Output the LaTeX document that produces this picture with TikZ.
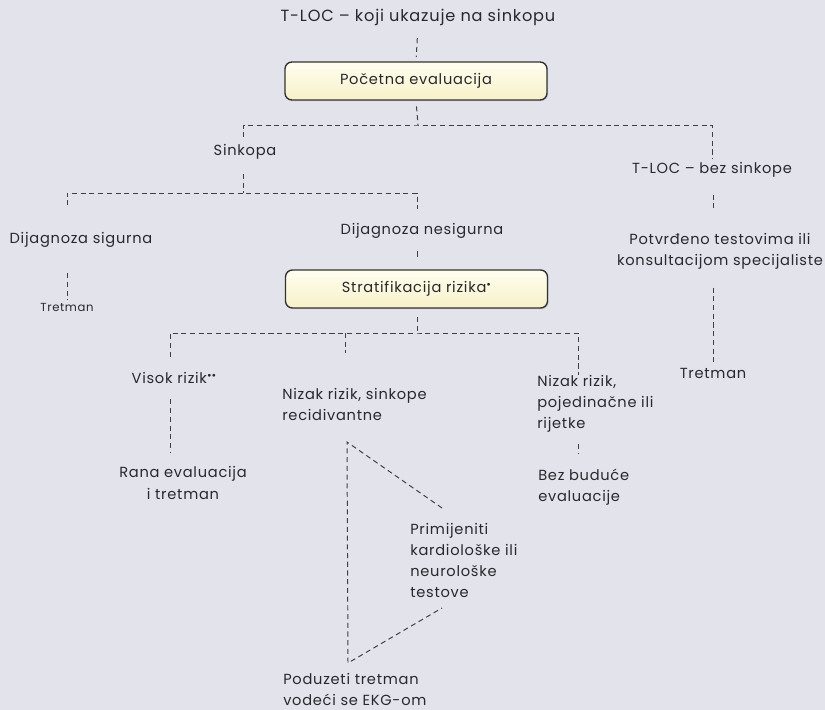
\documentclass[tikz,border=0pt]{standalone}
\usepackage{fontspec}
\setmainfont{Poppins}[LetterSpace=5]
\usetikzlibrary{shadows}
\definecolor{bgcol}{RGB}{227,227,236}
\definecolor{txtcol}{RGB}{40,40,45}
\definecolor{boxtop}{RGB}{255,254,240}
\definecolor{boxbot}{RGB}{247,241,200}
\newcommand{\bul}{\raisebox{0.55ex}{\fontsize{8}{8}\selectfont •}}
\begin{document}
\begin{tikzpicture}[x=0.025cm,y=-0.025cm,
  txt/.style={inner sep=0pt, text=txtcol, font=\fontsize{10.4}{15}\selectfont},
  ml/.style={txt, align=left, anchor=north west},
  box/.style={txt, draw=black!80, line width=1pt, rounded corners=5pt,
    top color=boxtop, bottom color=boxbot, minimum width=6.55cm, minimum height=0.95cm,
    drop shadow={opacity=0.25, shadow xshift=0.8pt, shadow yshift=-0.8pt}},
  dl/.style={draw=black!75, line width=0.7pt, dash pattern=on 3.6pt off 2.6pt}]
\fill[bgcol] (0,0) rectangle (825,710);

% top
\node[txt, font=\fontsize{11.5}{13}\selectfont] (title) at (418,17) {T-LOC -- koji ukazuje na sinkopu};
\node[box] (poc) at (416,81) {Početna evaluacija};
\coordinate (j1) at (418,125);
\draw[dl, shorten <=9pt, shorten >=3pt] (title.south) -- (poc.north);
\draw[dl, shorten <=4pt] (poc.south) -- (j1);

% first split
\node[txt] (sink) at (245,152) {Sinkopa};
\node[txt] (bez) at (712,170) {T-LOC -- bez sinkope};
\draw[dl, shorten <=5pt, shorten >=2pt] (sink.north -| 243,0) |- (j1) -| (bez.north);

% sinkopa split
\coordinate (j2) at (243,193);
\draw[dl, shorten <=10pt] (sink.south -| j2) -- (j2);
\node[txt] (dsig) at (81,240) {Dijagnoza sigurna};
\node[txt] (dnes) at (422,231) {Dijagnoza nesigurna};
\draw[dl, shorten <=19pt, shorten >=10pt] (dsig.north -| 67,0) |- (j2) -| (dnes.north -| 417,0);

% left branch
\node[txt, font=\fontsize{8.3}{9}\selectfont] (trl) at (67,307) {Tretman};
\draw[dl, shorten <=18pt, shorten >=2pt] (dsig.south -| trl) -- (trl.north);

% right branch
\node[txt, align=center] (potv) at (720,251) {Potvrđeno testovima ili\\konsultacijom specijaliste};
\node[txt] (tr2) at (713,373) {Tretman};
\draw[dl, shorten <=12pt, shorten >=16pt] (bez.south -| 713,0) -- (potv.north -| 713,0);
\draw[dl, shorten <=13pt, shorten >=3pt] (potv.south -| tr2) -- (tr2.north);

% stratifikacija
\node[box] (strat) at (416.5,289) {Stratifikacija rizika\bul};
\draw[dl, shorten <=9pt, shorten >=8pt] (dnes.south -| 417,0) -- (strat.north -| 417,0);
\coordinate (j3) at (417,333);
\draw[dl, shorten <=6pt] (strat.south -| j3) -- (j3);

% risk groups
\node[txt] (visok) at (174,378) {Visok rizik\bul\bul};
\node[ml] (niz1) at (282,388) {Nizak rizik, sinkope\\recidivantne};
\node[ml] (niz2) at (537,375) {Nizak rizik,\\pojedinačne ili\\rijetke};
\coordinate (jm) at (345,353);
\draw[dl, shorten <=11pt] (visok.north -| 170,0) |- (j3) -| (niz2.north -| 578,0);
\draw[dl] (jm |- j3) -- (jm);

% outcomes
\node[txt, align=center] (rana) at (183,483) {Rana evaluacija\\ i tretman};
\node[ml] (budu) at (538,469) {Bez buduće\\evaluacije};
\draw[dl, shorten <=11pt, shorten >=10pt] (visok.south -| 170,0) -- (rana.north -| 170,0);
\draw[dl, shorten <=8pt, shorten >=11pt] (niz2.south -| 578,0) -- (budu.north -| 578,0);

% triangle
\node[ml] (prim) at (410,523) {Primijeniti\\kardiološke ili\\neurološke\\testove};
\node[ml] (podu) at (283,673) {Poduzeti tretman\\vodeći se EKG-om};
\coordinate (tA) at (347,442);
\coordinate (tB) at (348,663);
\coordinate (tC) at (442,508);
\coordinate (tD) at (442,608);
\draw[dl] (tC) -- (tA) -- (tB) -- (tD);
\end{tikzpicture}
\end{document}
